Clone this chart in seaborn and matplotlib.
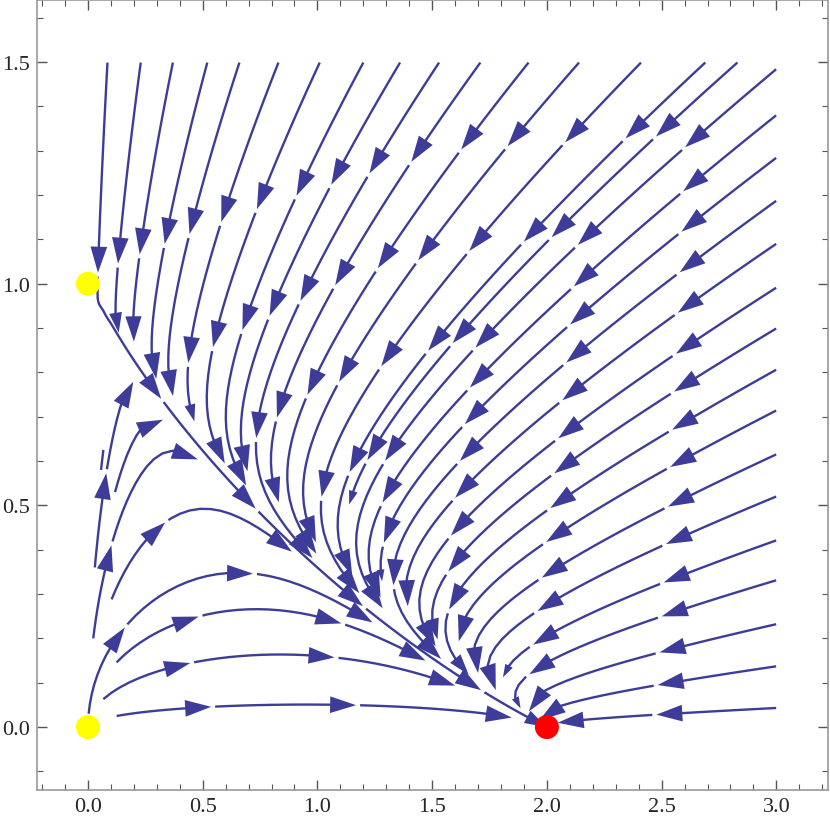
import numpy as np
import pandas as pd
import seaborn as sns
import matplotlib.pyplot as plt
from matplotlib.collections import LineCollection
from matplotlib.ticker import MultipleLocator

# competition model  x' = x(kx - x - a*y),  y' = y(ky - b*x - y)
K_X = 2.0
K_Y = 1.0
A_XY = 2.0
B_YX = 1.0

X_RANGE = [0.0, 3.0]
Y_RANGE = [0.0, 1.5]

# where the stream lines start
top_seed_x = [0.085, 0.23, 0.37, 0.52, 0.66, 0.83, 1.01, 1.20, 1.36, 1.53,
              1.71, 1.92, 2.14, 2.41, 2.69, 2.83]
right_seed_y = [1.484, 1.38, 1.284, 1.187, 1.09, 0.991, 0.899, 0.806, 0.714,
                0.615, 0.52, 0.421, 0.331, 0.232, 0.137, 0.043]
inner_seed_x = [0.125, 0.067, 0.003, 0.125, 0.103, 0.023, 0.03, 0.057, 0.118, 0.31]
inner_seed_y = [0.025, 0.063, 0.03, 0.146, 0.288, 0.20, 0.36, 0.58, 0.53, 0.60]

# equilibria shown as dots
eq_x = [0.0, 0.0, 2.0]
eq_y = [0.0, 1.0, 0.0]
eq_kind = ["unstable", "unstable", "stable"]

x_ticks = [0.0, 0.5, 1.0, 1.5, 2.0, 2.5, 3.0]
y_ticks = [0.0, 0.5, 1.0, 1.5]

STREAM_COLOR = "#3d3d99"
ARROW_STEP = 145    # px between arrow heads
HEAD_LEN = 26       # px
GAP = 4             # px break after every head

sns.set_style("ticks")
plt.rcParams['font.family'] = ['Liberation Serif', 'DejaVu Serif']

fig = plt.figure(figsize=(8.3, 8.28), dpi=100)
ax = fig.add_axes([0.0446, 0.0447, 0.953, 0.954])
ax.set_xlim(-0.222, 3.225)
ax.set_ylim(-0.142, 1.64)

xs = np.linspace(X_RANGE[0], X_RANGE[1], 151)
ys = np.linspace(Y_RANGE[0], Y_RANGE[1], 151)
X, Y = np.meshgrid(xs, ys)
U = X * (K_X - X - A_XY * Y)
V = Y * (K_Y - B_YX * X - Y)

seeds = ([(x, Y_RANGE[1] - 0.001) for x in top_seed_x]
         + [(X_RANGE[1] - 0.001, y) for y in right_seed_y]
         + list(zip(inner_seed_x, inner_seed_y)))
seeds = np.array(seeds)
n_top = len(top_seed_x)
n_right = len(right_seed_y)

sp = ax.streamplot(X, Y, U, V, start_points=seeds, density=2.2,
                   color=STREAM_COLOR, linewidth=1.7, minlength=0.02,
                   integration_direction='forward')
segs = sp.lines.get_segments()
sp.lines.remove()
for p in list(ax.patches):
    p.remove()

# stream lines come back either whole or as tiny segments: join them up
lines = []
cur = None
for s in segs:
    s = np.asarray(s)
    if cur is not None and len(s) == 2 and np.allclose(s[0], cur[-1]):
        cur.append(s[1])
    else:
        if cur is not None:
            lines.append(np.array(cur))
        cur = list(s)
if cur is not None:
    lines.append(np.array(cur))

to_px = ax.transData
to_data = ax.transData.inverted()
seeds_px = to_px.transform(seeds)


def first_arrow(k):
    # distance to the first head: longer for lines entering from the top
    if k is None:
        return 95
    if k < n_top:
        return max(110, 215 - 55 * seeds[k, 0])
    if k < n_top + n_right:
        return 120
    return 95


# forward-only streamplot drops the seed itself, put it back
fixed = []
for ln in lines:
    p0 = to_px.transform(ln[:1])[0]
    dist = np.hypot(*(seeds_px - p0).T)
    k = int(np.argmin(dist))
    if dist[k] < 20:
        ln = np.vstack([seeds[k], ln])
    else:
        k = None
    fixed.append((ln, k))

# redraw each stream line in pieces, Mathematica style: head, gap, next piece
pieces = []
heads = []
for ln, k in fixed:
    px = to_px.transform(ln)
    d = np.r_[0, np.cumsum(np.hypot(*np.diff(px, axis=0).T))]
    total = d[-1]
    if total < 8:
        continue

    def at(s):
        return np.array([np.interp(s, d, px[:, 0]), np.interp(s, d, px[:, 1])])

    tips = list(np.arange(first_arrow(k), total - 30, ARROW_STEP))
    last = tips[-1] if tips else 0
    end_scale = min(1.0, (total - last) / 90)
    tips_scale = [1.0] * len(tips)
    if total - last > 25:
        tips.append(total)
        tips_scale.append(max(end_scale, 0.45))
    start = 0.0
    for t, f in zip(tips, tips_scale):
        stop = t - HEAD_LEN * f * 0.7
        if stop > start:
            ss = np.r_[start, d[(d > start) & (d < stop)], stop]
            pieces.append(to_data.transform(np.array([at(v) for v in ss])))
        heads.append((to_data.transform(at(t)),
                      to_data.transform(at(t - HEAD_LEN * f)), f))
        start = t + GAP
    if start < total and not tips:
        ss = np.r_[start, d[d > start]]
        pieces.append(to_data.transform(np.array([at(v) for v in ss])))

ax.add_collection(LineCollection(pieces, colors=STREAM_COLOR, linewidths=1.7,
                                 capstyle='butt'))
for tip, base, f in heads:
    ax.annotate("", xy=tip, xytext=base,
                arrowprops=dict(arrowstyle="-|>,head_length=1.87,head_width=0.6",
                                color=STREAM_COLOR, lw=0, shrinkA=0, shrinkB=0,
                                mutation_scale=10 * f))

eq = pd.DataFrame({"x": eq_x, "y": eq_y, "kind": eq_kind})
sns.scatterplot(data=eq, x="x", y="y", hue="kind",
                palette={"unstable": "#ffff00", "stable": "#ff0000"},
                s=300, edgecolor="none", legend=False, zorder=5, ax=ax)

ax.set_xlim(-0.222, 3.225)
ax.set_ylim(-0.142, 1.64)
ax.set_xticks(x_ticks)
ax.set_yticks(y_ticks)
ax.set_xticklabels([f"{v:.1f}" for v in x_ticks])
ax.set_yticklabels([f"{v:.1f}" for v in y_ticks])
ax.xaxis.set_minor_locator(MultipleLocator(0.1))
ax.yaxis.set_minor_locator(MultipleLocator(0.1))
ax.tick_params(which='both', direction='in', top=True, right=True,
               color='#555555', labelsize=16, pad=5)
ax.tick_params(which='major', length=7, width=1)
ax.tick_params(which='minor', length=4, width=0.8)
for sp_ in ax.spines.values():
    sp_.set_visible(True)
    sp_.set_color('#999999')
    sp_.set_linewidth(1.2)
ax.set_xlabel("")
ax.set_ylabel("")

fig.savefig("out.png", dpi=100)
